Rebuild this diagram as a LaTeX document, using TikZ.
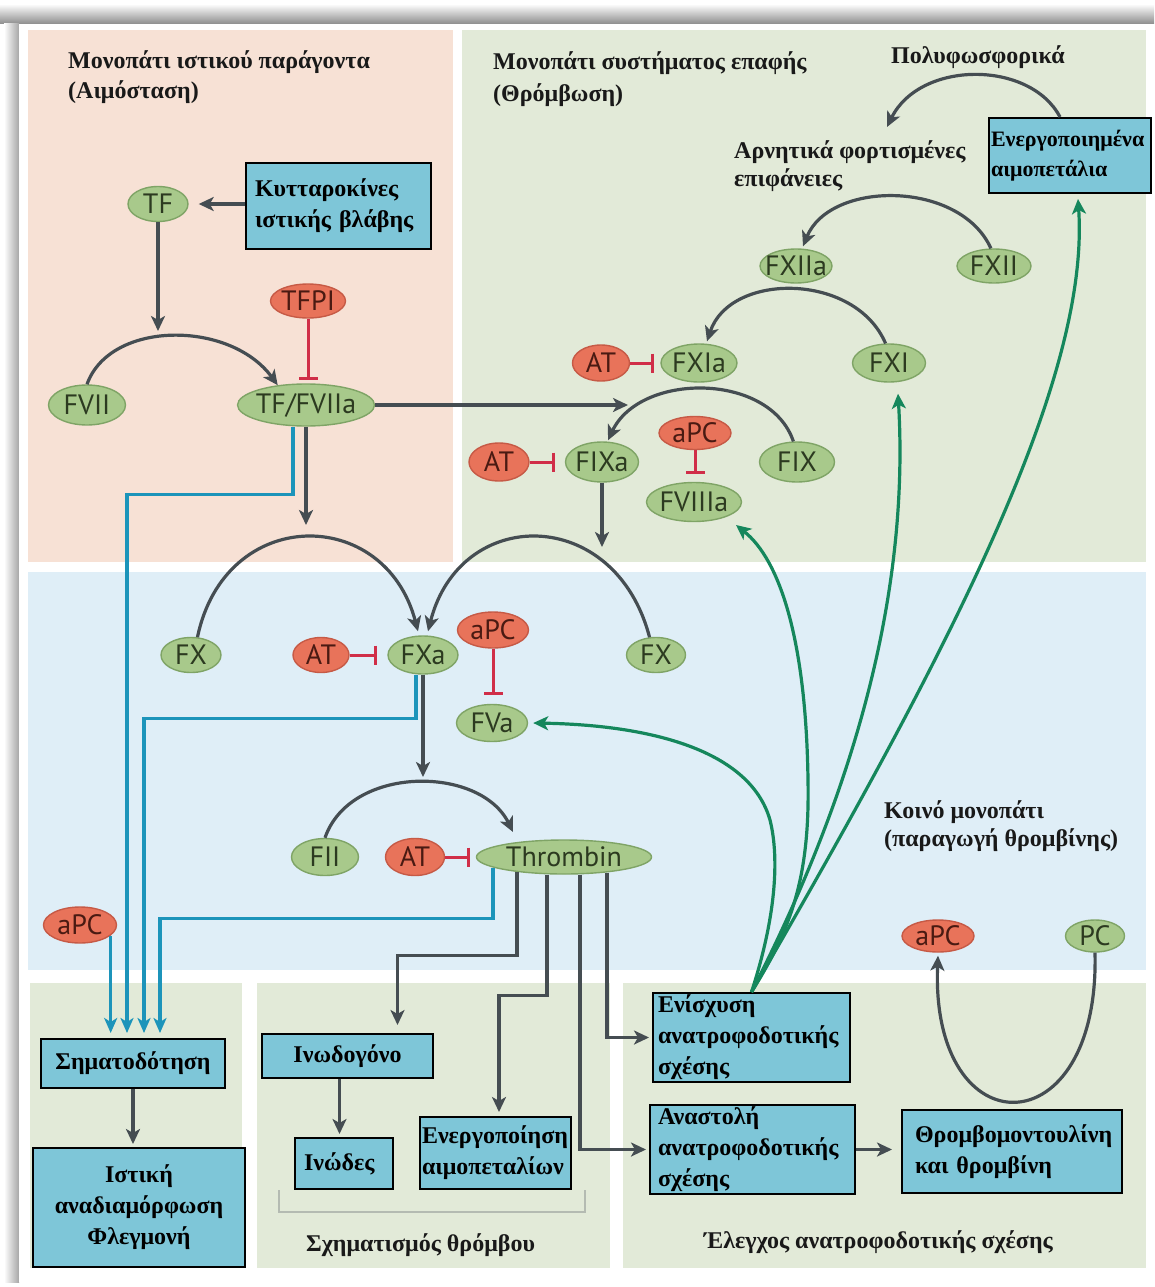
\documentclass[tikz,border=0pt]{standalone}
\usepackage{fontspec}
\setmainfont{Liberation Serif}
\newfontfamily\elfont{PT Sans}
\usetikzlibrary{shapes.geometric,arrows.meta,calc}
\definecolor{pinkp}{HTML}{F7E1D5}
\definecolor{greenp}{HTML}{E2EAD8}
\definecolor{bluep}{HTML}{DFEEF7}
\definecolor{boxfill}{HTML}{7EC6D8}
\definecolor{gfill}{HTML}{A8C98B}
\definecolor{gborder}{HTML}{7FA466}
\definecolor{gtext}{HTML}{2C3A20}
\definecolor{rfill}{HTML}{E8735A}
\definecolor{rborder}{HTML}{C65A46}
\definecolor{rtext}{HTML}{4A1A12}
\definecolor{inhred}{HTML}{D02E48}
\definecolor{darkarr}{HTML}{454D52}
\definecolor{tealb}{HTML}{1C94BA}
\definecolor{greenl}{HTML}{15875C}
\definecolor{brk}{HTML}{B4BBB2}
\newcommand{\EL}[1]{\makebox[0pt][c]{#1}}
\begin{document}
\begin{tikzpicture}[x=1pt,y=-1pt,
  gell/.style={ellipse, draw=gborder, line width=1.4pt, fill=gfill, text=gtext, font=\elfont\fontsize{28}{28}\selectfont, inner sep=0pt},
  rell/.style={ellipse, draw=rborder, line width=1.4pt, fill=rfill, text=rtext, font=\elfont\fontsize{28}{28}\selectfont, inner sep=0pt},
  bx/.style={draw=black, line width=2pt, fill=boxfill, font=\bfseries\fontsize{24}{31}\selectfont, inner ysep=0pt, anchor=north west},
  ttl/.style={font=\bfseries\fontsize{24}{30}\selectfont, align=left, anchor=north west, inner sep=0pt, text=black!90},
  arr/.style={draw=darkarr, line width=3.2pt, -{Stealth[length=15pt,width=14pt,inset=4pt]}},
  inh/.style={draw=inhred, line width=3pt, -{Bar[width=19pt]}},
  bline/.style={draw=tealb, line width=3.2pt, -{Stealth[length=15pt,width=13pt,inset=4pt]}},
  gline/.style={draw=greenl, line width=3.2pt, -{Stealth[length=15pt,width=14pt,inset=4pt]}},
]
% background and frame
\fill[white] (0,0) rectangle (1154,1287);
\shade[top color=white, bottom color=black!45] (0,4) rectangle (1154,24);
\shade[left color=white, right color=black!35] (4,24) rectangle (19,1282);
\fill[white] (19,24) rectangle (1152,1282);
% panels
\fill[pinkp] (28,30) rectangle (453,562);
\fill[greenp] (462,30) rectangle (1146,562);
\fill[bluep] (28,572) rectangle (1146,970);
\fill[greenp] (30,983) rectangle (242,1268);
\fill[greenp] (257,983) rectangle (610,1268);
\fill[greenp] (623,983) rectangle (1146,1268);
% titles
\node[ttl] (t1) at (68,50) {Μονοπάτι ιστικού παράγοντα\\(Αιμόσταση)};
\node[ttl, font=\bfseries\fontsize{24}{32}\selectfont] (t2) at (493,51) {Μονοπάτι συστήματος επαφής\\(Θρόμβωση)};
\node[ttl] (t3) at (891,45) {Πολυφωσφορικά};
\node[ttl, font=\bfseries\fontsize{24}{28}\selectfont] (t4) at (734,140) {Αρνητικά φορτισμένες\\επιφάνειες};
\node[ttl, font=\bfseries\fontsize{24}{28}\selectfont] (t5) at (884,800) {Κοινό μονοπάτι\\(παραγωγή θρομβίνης)};
\node[ttl] (t6) at (306,1233) {Σχηματισμός θρόμβου};
\node[ttl] (t7) at (704,1230) {Έλεγχος ανατροφοδοτικής σχέσης};
% boxes
\node[bx, minimum width=185pt, minimum height=86pt, inner xsep=9pt, text width=167pt, align=left] (kyt) at (245,162) {Κυτταροκίνες\\ιστικής βλάβης};
\node[bx, minimum width=162pt, minimum height=75pt, inner xsep=2pt, text width=158pt, align=left, font=\bfseries\fontsize{22}{30}\selectfont] (enpl) at (988,117) {Ενεργοποιημένα\\αιμοπετάλια};
\node[bx, minimum width=184pt, minimum height=49pt, inner xsep=7pt, text width=170pt, align=center] (sima) at (40,1038) {Σηματοδότηση};
\node[bx, minimum width=212pt, minimum height=119pt, inner xsep=6pt, text width=200pt, align=center] (istiki) at (32,1147) {Ιστική\\αναδιαμόρφωση\\Φλεγμονή};
\node[bx, minimum width=171pt, minimum height=44pt, inner xsep=6pt, text width=159pt, align=center] (inodog) at (261,1033) {Ινωδογόνο};
\node[bx, minimum width=98pt, minimum height=51pt, inner xsep=9pt, text width=80pt, align=left] (inodes) at (294,1137) {Ινώδες};
\node[bx, minimum width=151pt, minimum height=72pt, inner xsep=2pt, text width=147pt, align=left] (energ) at (419,1116) {Ενεργοποίηση\\αιμοπεταλίων};
\node[bx, minimum width=197pt, minimum height=89pt, inner xsep=5pt, text width=187pt, align=left] (enisx) at (652,992) {Ενίσχυση\\ανατροφοδοτικής\\σχέσης};
\node[bx, minimum width=205pt, minimum height=89pt, inner xsep=8pt, text width=189pt, align=left] (anast) at (649,1104) {Αναστολή\\ανατροφοδοτικής\\σχέσης};
\node[bx, minimum width=220pt, minimum height=83pt, inner xsep=13pt, text width=194pt, align=left] (thromb) at (901,1109) {Θρομβομοντουλίνη\\και θρομβίνη};
% ellipses
\node[gell, minimum width=60pt, minimum height=35pt] (tf) at (158,204) {\EL{TF}};
\node[rell, minimum width=75pt, minimum height=34pt] (tfpi) at (308,301) {\EL{TFPI}};
\node[gell, minimum width=77pt, minimum height=40pt] (fvii) at (87,405) {\EL{FVII}};
\node[gell, minimum width=137pt, minimum height=42pt] (tfvii) at (306,405) {\EL{TF/FVIIa}};
\node[gell, minimum width=72pt, minimum height=34pt] (fxiia) at (796,266) {\EL{FXIIa}};
\node[gell, minimum width=74pt, minimum height=34pt] (fxii) at (994,266) {\EL{FXII}};
\node[rell, minimum width=57pt, minimum height=36pt] (at1) at (601,363) {\EL{AT}};
\node[gell, minimum width=76pt, minimum height=38pt] (fxia) at (699,363) {\EL{FXIa}};
\node[gell, minimum width=73pt, minimum height=38pt] (fxi) at (889,363) {\EL{FXI}};
\node[rell, minimum width=60pt, minimum height=38pt] (at2) at (499,462) {\EL{AT}};
\node[gell, minimum width=73pt, minimum height=40pt] (fixa) at (602,462) {\EL{FIXa}};
\node[rell, minimum width=72pt, minimum height=33pt] (apc1) at (695,433) {\EL{aPC}};
\node[gell, minimum width=75pt, minimum height=40pt] (fix) at (797,462) {\EL{FIX}};
\node[gell, minimum width=95pt, minimum height=39pt] (fviiia) at (694,502) {\EL{FVIIIa}};
\node[gell, minimum width=60pt, minimum height=35pt] (fx1) at (191,655) {\EL{FX}};
\node[rell, minimum width=56pt, minimum height=35pt] (at3) at (321,655) {\EL{AT}};
\node[gell, minimum width=70pt, minimum height=38pt] (fxa) at (423,655) {\EL{FXa}};
\node[rell, minimum width=71pt, minimum height=36pt] (apc2) at (493,630) {\EL{aPC}};
\node[gell, minimum width=71pt, minimum height=37pt] (fva) at (492,723) {\EL{FVa}};
\node[gell, minimum width=59pt, minimum height=35pt] (fx2) at (656,655) {\EL{FX}};
\node[gell, minimum width=67pt, minimum height=37pt] (fii) at (325,857) {\EL{FII}};
\node[rell, minimum width=59pt, minimum height=37pt] (at4) at (415,857) {\EL{AT}};
\node[gell, minimum width=175pt, minimum height=34pt] (thr) at (564,857) {\EL{Thrombin}};
\node[rell, minimum width=73pt, minimum height=36pt] (apc3) at (80,925) {\EL{aPC}};
\node[rell, minimum width=72pt, minimum height=32pt] (apc4) at (938,936) {\EL{aPC}};
\node[gell, minimum width=59pt, minimum height=32pt] (pc) at (1095,936) {\EL{PC}};
% coordinates for free ends
\coordinate (tfend) at (158,331);
\coordinate (hend) at (628,405);
\coordinate (vend) at (306,525);
\coordinate (ixend) at (602,547);
\coordinate (xaend) at (423,777);
\coordinate (negtip) at (887,127);
% dark arrows
\draw[arr] (kyt.west |- tf.east) -- ([xshift=10pt]tf.east);
\draw[arr] (tf.south) -- (tfend);
\draw[arr] (fvii.north) .. controls (110,320) and (230,320) .. (tfvii.145);
\draw[arr] (tfvii.east) -- (hend);
\draw[arr] (tfvii.south) -- (vend);
\draw[arr] (fx1.70) .. controls (225,505) and (385,505) .. ([xshift=-5pt,yshift=4pt]fxa.north);
\draw[arr] (fx2.110) .. controls (615,505) and (460,505) .. ([xshift=5pt,yshift=4pt]fxa.north);
\draw[arr] (fixa.south) -- (ixend);
\draw[arr] (fxii.100) .. controls (960,180) and (830,180) .. ([xshift=7pt,yshift=2pt]fxiia.north);
\draw[arr] ([xshift=72pt]enpl.north west) .. controls (1030,60) and (920,60) .. (negtip);
\draw[arr] (fxi.100) .. controls (855,272) and (730,272) .. ([xshift=8pt,yshift=2pt]fxia.north);
\draw[arr] (fix.100) .. controls (770,372) and (640,372) .. ([xshift=6pt,yshift=1pt]fixa.north);
\draw[arr] (fxa.south) -- (xaend);
\draw[arr] (fii.north) .. controls (350,765) and (480,765) .. ([xshift=-51pt,yshift=25pt]thr.center);
\draw[arr, shorten >=8pt] ([xshift=-47pt,yshift=3pt]thr.south) -- ++(0,84) -| ([xshift=50pt]inodog.north);
\draw[arr, shorten >=4pt] ([xshift=-17pt]thr.south) -- ++(0,121) -| ([xshift=3.5pt]energ.north);
\draw[arr, shorten >=3pt] ([xshift=16pt]thr.south) |- (anast.west);
\draw[arr, shorten >=3pt] ([xshift=43pt,yshift=2pt]thr.south) |- (enisx.west);
\draw[arr, shorten >=3pt] ([xshift=-8pt]inodog.south) -- ([xshift=-8pt]inodog.south |- inodes.north);
\draw[arr, shorten >=3pt] (sima.south) -- (sima.south |- istiki.north);
\draw[arr, shorten >=9pt] (anast.east) -- (anast.east -| thromb.west);
\draw[arr] (pc.south) .. controls (1100,1150) and (930,1150) .. ([yshift=-3pt]apc4.south);
% inhibitions
\draw[inh, shorten >=3pt] (tfpi.south) -- (tfpi.south |- tfvii.north);
\draw[inh, shorten >=6pt] (at1.east) -- (fxia.west);
\draw[inh, shorten >=10pt] (at2.east) -- (fixa.west);
\draw[inh, shorten >=8pt] (apc1.south) -- (apc1.south |- fviiia.north);
\draw[inh, shorten >=10pt] (at3.east) -- (fxa.west);
\draw[inh, shorten >=9pt] (apc2.south) -- (apc2.south |- fva.north);
\draw[inh, shorten >=6pt] (at4.east) -- (thr.west);
% blue signalling lines
\draw[bline, shorten >=5pt] (apc3.-19) -- (apc3.-19 |- sima.north);
\draw[bline, shorten >=5pt] ([xshift=-13pt]tfvii.south) -- ++(0,68) -| ([xshift=-6pt]sima.north);
\draw[bline, shorten >=5pt] ([xshift=-7pt]fxa.south) -- ++(0,44) -| ([xshift=11pt]sima.north);
\draw[bline, shorten >=5pt] ([xshift=-71pt,yshift=7pt]thr.south) -- ++(0,51) -| ([xshift=27pt]sima.north);
% green feedback lines
\draw[gline] (enisx.north) .. controls (775,920) and (780,860) .. (770,820) .. controls (750,750) and (650,725) .. ([xshift=5pt]fva.east);
\draw[gline] (enisx.north) .. controls (790,930) and (810,880) .. (808,780) .. controls (806,640) and (780,560) .. ([xshift=42pt,yshift=-23pt]fviiia.center);
\draw[gline] (enisx.north) .. controls (850,800) and (910,600) .. ([xshift=9pt,yshift=-11pt]fxi.south);
\draw[gline] (enisx.north) .. controls (950,650) and (1090,380) .. ([xshift=8pt,yshift=-5pt]enpl.south);
% bracket
\draw[brk, line width=1.6pt] (279,1190) -- (279,1212) -- (585,1212) -- (585,1190);
\end{tikzpicture}
\end{document}
